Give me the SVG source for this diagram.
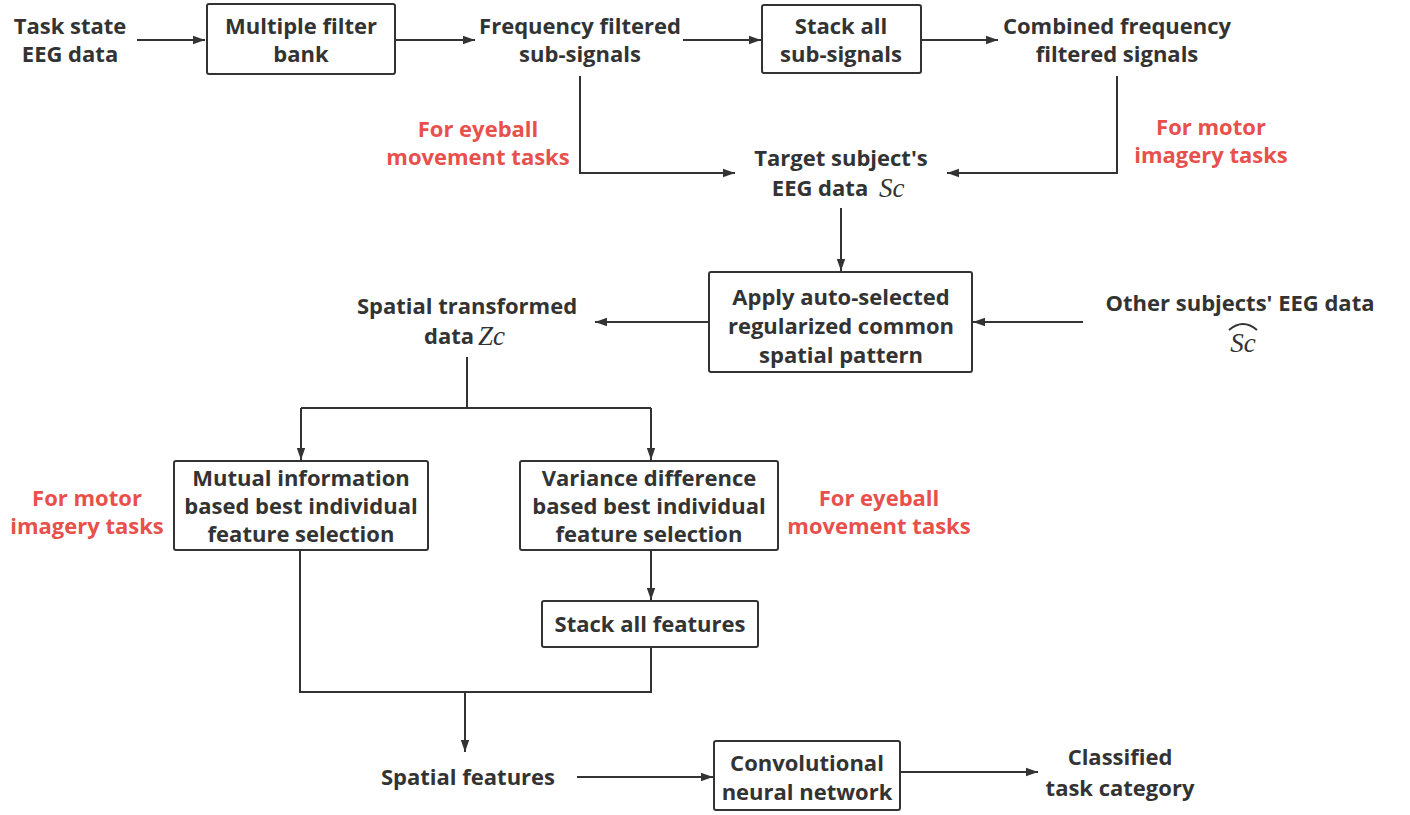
<svg xmlns="http://www.w3.org/2000/svg" width="1410" height="815" viewBox="0 0 1410 815">
  <style>
    .t { font-family: "Open Sans", "Noto Sans", "DejaVu Sans", sans-serif; font-weight: 700; font-size: 22px; fill: #333; text-anchor: middle; }
    .r { fill: #e8504c; }
    .m { font-family: "Liberation Serif", "DejaVu Serif", serif; font-style: italic; font-weight: 400; font-size: 27px; fill: #333; }
    .box { fill: #fff; stroke: #333; stroke-width: 2; }
    .ln { fill: none; stroke: #333; stroke-width: 2; }
    .ar { fill: none; stroke: #333; stroke-width: 2; marker-end: url(#ah); }
  </style>
  <defs>
    <marker id="ah" viewBox="0 0 10 10" refX="10" refY="5" markerWidth="6" markerHeight="6" markerUnits="strokeWidth" orient="auto">
      <path d="M0,1.5 L10,5 L0,8.5 Z" fill="#333"/>
    </marker>
  </defs>
  <rect width="1410" height="815" fill="#fff"/>

  <!-- connectors -->
  <g id="connectors">
    <path class="ar" d="M137,40 H205"/>
    <path class="ar" d="M395,40 H475"/>
    <path class="ar" d="M683,40 H761"/>
    <path class="ar" d="M921,40 H998"/>
    <path class="ar" d="M580,76 V173 H735"/>
    <path class="ar" d="M1117,76 V173 H947"/>
    <path class="ar" d="M841,208 V271"/>
    <path class="ar" d="M709,322 H595"/>
    <path class="ar" d="M1083,322 H973"/>
    <path class="ln" d="M467,357 V408"/>
    <path class="ar" d="M301,408 H651 M301,408 V460"/>
    <path class="ar" d="M651,408 V460"/>
    <path class="ar" d="M651,550 V600"/>
    <path class="ln" d="M300,550 V692 H651 V647"/>
    <path class="ar" d="M465,692 V752"/>
    <path class="ar" d="M577,777 H713"/>
    <path class="ar" d="M900,772 H1038"/>
  </g>

  <g id="task-state">
    <text class="t" x="70" y="34">Task state</text>
    <text class="t" x="70" y="62">EEG data</text>
  </g>
  <g id="filter-bank">
    <rect class="box" x="207" y="4" width="188" height="70" rx="2"/>
    <text class="t" x="301" y="34">Multiple filter</text>
    <text class="t" x="301" y="62">bank</text>
  </g>
  <g id="sub-signals">
    <text class="t" x="580" y="34">Frequency filtered</text>
    <text class="t" x="580" y="62">sub-signals</text>
  </g>
  <g id="stack-sub">
    <rect class="box" x="762" y="5" width="159" height="68" rx="2"/>
    <text class="t" x="841" y="34">Stack all</text>
    <text class="t" x="841" y="62">sub-signals</text>
  </g>
  <g id="combined">
    <text class="t" x="1117" y="34">Combined frequency</text>
    <text class="t" x="1117" y="62">filtered signals</text>
  </g>
  <g id="note-eyeball-top">
    <text class="t r" x="478" y="137">For eyeball</text>
    <text class="t r" x="478" y="165">movement tasks</text>
  </g>
  <g id="note-motor-top">
    <text class="t r" x="1211" y="135">For motor</text>
    <text class="t r" x="1211" y="163">imagery tasks</text>
  </g>
  <g id="target-data">
    <text class="t" x="841" y="166">Target subject's</text>
    <text class="t" x="820" y="196">EEG data</text>
    <text class="m" x="879" y="197">Sc</text>
  </g>
  <g id="rcsp">
    <rect class="box" x="709" y="272" width="263" height="100" rx="2"/>
    <text class="t" x="841" y="305">Apply auto-selected</text>
    <text class="t" x="841" y="334">regularized common</text>
    <text class="t" x="841" y="363">spatial pattern</text>
  </g>
  <g id="other-data">
    <text class="t" x="1240" y="311">Other subjects' EEG data</text>
    <path class="ln" d="M1229,330 Q1243,318 1257,330" stroke-width="1.2"/>
    <text class="m" x="1243" y="352" text-anchor="middle">Sc</text>
  </g>
  <g id="spatial-transformed">
    <text class="t" x="467" y="314">Spatial transformed</text>
    <text class="t" x="449" y="344">data</text>
    <text class="m" x="478" y="345">Zc</text>
  </g>
  <g id="mutual-info">
    <rect class="box" x="174" y="461" width="254" height="89" rx="2"/>
    <text class="t" x="301" y="486">Mutual information</text>
    <text class="t" x="301" y="514">based best individual</text>
    <text class="t" x="301" y="542">feature selection</text>
  </g>
  <g id="variance-diff">
    <rect class="box" x="520" y="461" width="258" height="89" rx="2"/>
    <text class="t" x="649" y="486">Variance difference</text>
    <text class="t" x="649" y="514">based best individual</text>
    <text class="t" x="649" y="542">feature selection</text>
  </g>
  <g id="note-motor-bottom">
    <text class="t r" x="87" y="506">For motor</text>
    <text class="t r" x="87" y="534">imagery tasks</text>
  </g>
  <g id="note-eyeball-bottom">
    <text class="t r" x="879" y="506">For eyeball</text>
    <text class="t r" x="879" y="534">movement tasks</text>
  </g>
  <g id="stack-features">
    <rect class="box" x="542" y="601" width="216" height="46" rx="2"/>
    <text class="t" x="650" y="632">Stack all features</text>
  </g>
  <g id="spatial-features">
    <text class="t" x="468" y="785">Spatial features</text>
  </g>
  <g id="cnn">
    <rect class="box" x="714" y="741" width="186" height="69" rx="2"/>
    <text class="t" x="807" y="771">Convolutional</text>
    <text class="t" x="807" y="800">neural network</text>
  </g>
  <g id="classified">
    <text class="t" x="1120" y="765">Classified</text>
    <text class="t" x="1120" y="796">task category</text>
  </g>
</svg>
